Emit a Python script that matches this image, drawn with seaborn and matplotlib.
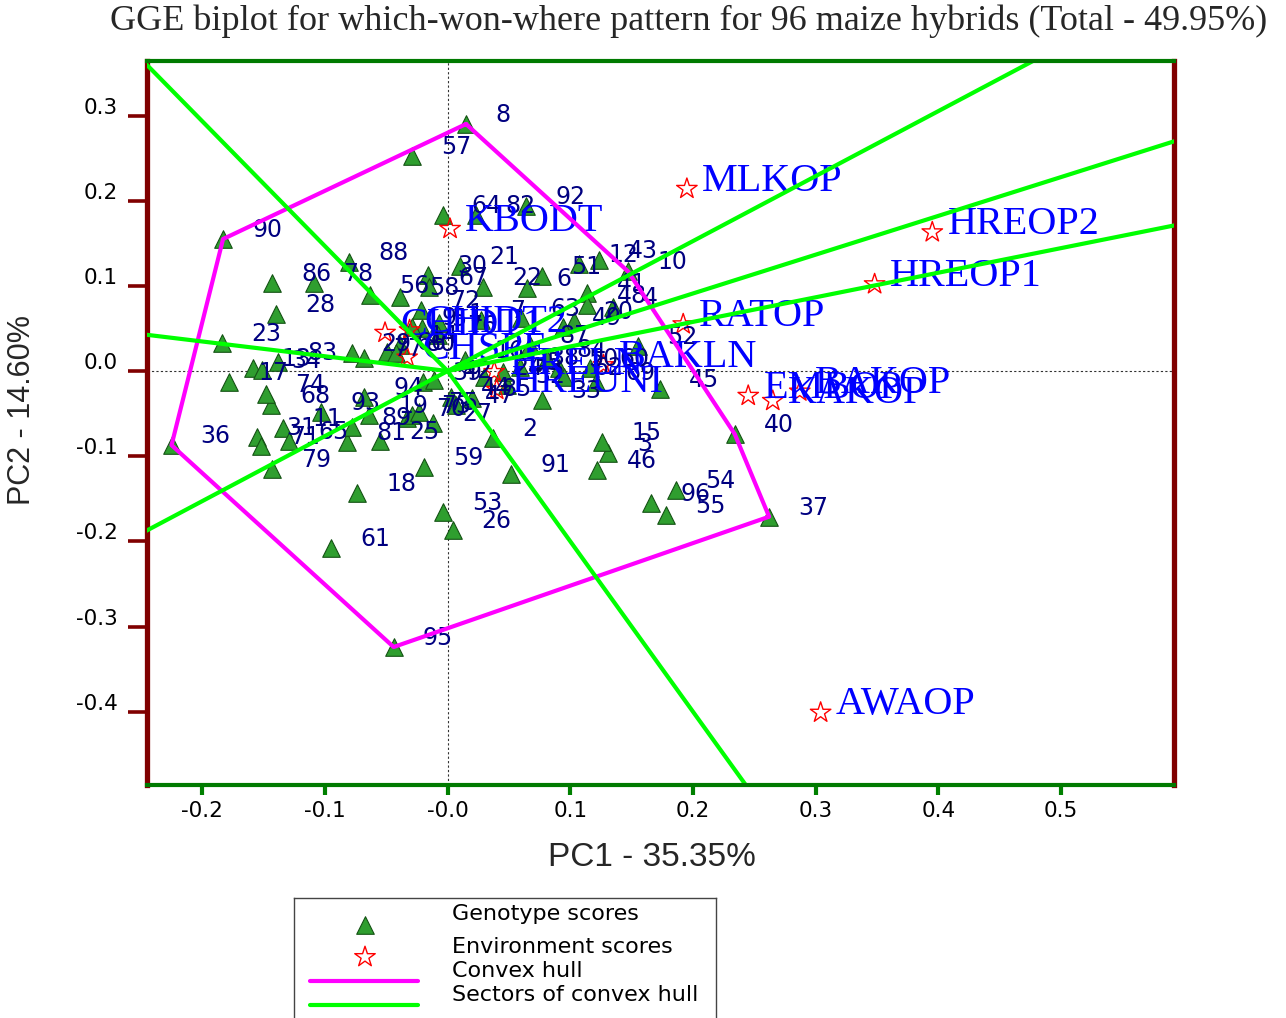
import matplotlib
matplotlib.use("Agg")
import numpy as np
import pandas as pd
import matplotlib.pyplot as plt
import seaborn as sns
from matplotlib.transforms import ScaledTranslation

# ---- genotype scores (hybrid number, PC1, PC2) ----
gen_ids = list(range(1, 97))
gen_pc1 = [
    -0.007, 0.037, 0.131, 0.135, -0.021, 0.065, 0.027, 0.015, -0.029, 0.147,
    -0.134, 0.107, -0.159, -0.039, 0.126, 0.014, -0.178, -0.074, -0.064, 0.103,
    0.010, 0.029, -0.184, 0.030, -0.055, 0.004, -0.012, -0.140, -0.078, -0.016,
    -0.155, 0.048, 0.077, -0.151, 0.045, -0.225, 0.262, 0.059, -0.020, 0.234,
    0.114, -0.011, 0.123, 0.003, 0.173, 0.122, 0.007, 0.114, 0.094, 0.091,
    0.077, 0.155, -0.004, 0.186, 0.178, -0.063, -0.029, -0.039, -0.019, 0.116,
    -0.095, 0.095, 0.060, -0.004, -0.129, -0.049, -0.015, -0.144, 0.121, -0.033,
    -0.152, -0.022, -0.029, -0.148, -0.023, -0.008, -0.068, -0.109, -0.143, -0.042,
    -0.082, 0.023, -0.138, 0.081, 0.020, -0.143, 0.067, -0.080, -0.078, -0.183,
    0.052, 0.064, -0.103, -0.068, -0.044, 0.166,
]
gen_pc2 = [
    0.056, -0.079, -0.096, 0.075, 0.050, 0.097, 0.060, 0.290, 0.052, 0.117,
    -0.067, 0.126, 0.004, 0.030, -0.083, 0.013, -0.013, -0.143, -0.052, 0.059,
    0.123, 0.099, 0.033, -0.007, -0.082, -0.187, -0.061, 0.067, 0.021, 0.113,
    -0.077, -0.016, -0.034, 0.001, -0.001, -0.087, -0.171, 0.005, -0.013, -0.074,
    0.092, -0.011, 0.130, -0.031, -0.021, -0.116, -0.040, 0.077, 0.052, 0.004,
    0.112, 0.029, -0.165, -0.140, -0.169, 0.089, 0.252, 0.087, -0.113, 0.004,
    -0.208, -0.007, 0.062, 0.183, -0.082, 0.022, 0.099, -0.040, -0.013, -0.055,
    -0.088, 0.072, -0.052, -0.027, -0.048, 0.042, 0.015, 0.103, -0.115, 0.021,
    -0.083, 0.183, 0.011, 0.014, -0.032, 0.103, 0.030, 0.128, -0.066, 0.155,
    -0.121, 0.194, -0.048, -0.031, -0.324, -0.155,
]

# ---- environment scores ----
env_names = ["MLKOP", "HREOP2", "HREOP1", "RATOP", "KBODT", "AWAOP",
             "EMBOP", "KAKOP", "BAKOP", "CHIDT1", "CHIDT2", "CHSPE",
             "HRELN", "HREUNI", "BAKLN"]
env_pc1 = [0.195, 0.395, 0.348, 0.192, 0.002, 0.304,
           0.245, 0.265, 0.287, -0.051, -0.031, -0.033,
           0.038, 0.040, 0.127]
env_pc2 = [0.214, 0.163, 0.102, 0.055, 0.167, -0.401,
           -0.029, -0.035, -0.024, 0.045, 0.048, 0.016,
           -0.001, -0.022, 0.007]

# genotypes at the corners of the convex hull, in drawing order
hull_ids = [8, 10, 40, 37, 95, 36, 90]

x_ticks = [-0.2, -0.1, 0.0, 0.1, 0.2, 0.3, 0.4, 0.5]
x_tick_labels = ["-0.2", "-0.1", "-0.0", "0.1", "0.2", "0.3", "0.4", "0.5"]
y_ticks = [0.3, 0.2, 0.1, 0.0, -0.1, -0.2, -0.3, -0.4]
y_tick_labels = ["0.3", "0.2", "0.1", "0.0", "-0.1", "-0.2", "-0.3", "-0.4"]

title_text = "GGE biplot for which-won-where pattern for 96 maize hybrids (Total - 49.95%)"
x_label = "PC1 - 35.35%"
y_label = "PC2 - 14.60%"
legend_labels = ["Genotype scores", "Environment scores", "Convex hull",
                 "Sectors of convex hull"]

GEN_FILL = "#2f9e2f"
GEN_EDGE = "#145214"
ENV_COLOR = "red"
HULL_COLOR = "#ff00ff"
SECTOR_COLOR = "#00ff00"

sns.set_theme(style="white")
plt.rcParams["font.family"] = ["DejaVu Sans"]

gen = pd.DataFrame({"id": gen_ids, "PC1": gen_pc1, "PC2": gen_pc2})
env = pd.DataFrame({"name": env_names, "PC1": env_pc1, "PC2": env_pc2})

W, H = 1286, 1018
fig = plt.figure(figsize=(W / 100, H / 100), dpi=100)
ax = fig.add_axes([147 / W, 1 - 785 / H, 1027 / W, 724 / H])
ax.set_xlim(-0.245, 0.592)
ax.set_ylim(-0.486, 0.364)

# reference axes through the origin
ax.axhline(0, color="#333333", lw=0.8, ls=(0, (2, 2)), zorder=1)
ax.axvline(0, color="#333333", lw=0.8, ls=(0, (2, 2)), zorder=1)

# genotype and environment markers
sns.scatterplot(data=gen, x="PC1", y="PC2", marker="^", s=160, color=GEN_FILL,
                edgecolor=GEN_EDGE, linewidth=0.8, ax=ax, zorder=3, legend=False)
sns.scatterplot(data=env, x="PC1", y="PC2", marker="*", s=240, color=ENV_COLOR,
                facecolors="none", edgecolor=ENV_COLOR, linewidth=1.0, ax=ax,
                zorder=4, legend=False)

for gid, gx, gy in zip(gen["id"], gen["PC1"], gen["PC2"]):
    ax.annotate(str(gid), (gx, gy), xytext=(21, 6.5), textcoords="offset points",
                ha="left", va="center", fontsize=17, color="#000080", zorder=5)

for name, ex, ey in zip(env["name"], env["PC1"], env["PC2"]):
    ax.annotate(name, (ex, ey), xytext=(11, 5.5), textcoords="offset points",
                ha="left", va="center", fontsize=29, color="#0000ff",
                family=["Liberation Serif", "DejaVu Serif"], zorder=5)

# convex hull around the genotypes
hull = gen.set_index("id").loc[hull_ids + [hull_ids[0]]]
ax.plot(hull["PC1"], hull["PC2"], color=HULL_COLOR, lw=3, zorder=6)

# sector rays: perpendicular from the origin to each hull side
pts = hull[["PC1", "PC2"]].to_numpy()
for a, b in zip(pts[:-1], pts[1:]):
    d = b - a
    n = np.array([-d[1], d[0]])
    if np.dot(n, a) < 0:
        n = -n
    n = n / np.linalg.norm(n)
    ax.plot([0, n[0] * 5], [0, n[1] * 5], color=SECTOR_COLOR, lw=3, zorder=7)

# frame
for side in ("left", "right"):
    ax.spines[side].set_color("#800000")
    ax.spines[side].set_linewidth(3.8)
for side in ("top", "bottom"):
    ax.spines[side].set_color("#007a00")
    ax.spines[side].set_linewidth(3.0)
    ax.spines[side].set_zorder(8)

ax.set_xticks(x_ticks)
ax.set_xticklabels(x_tick_labels)
ax.set_yticks(y_ticks)
ax.set_yticklabels(y_tick_labels)
ax.tick_params(axis="y", left=True, right=False, direction="out", length=14,
               width=2.6, color="#800000", pad=7, labelsize=15.5, labelcolor="black")
ax.tick_params(axis="x", bottom=True, top=False, direction="out", length=7.5,
               width=3, color="#008000", pad=4, labelsize=15.5, labelcolor="black")
lift = ScaledTranslation(0, 0.10, fig.dpi_scale_trans)
for lab in ax.get_yticklabels():
    lab.set_transform(lab.get_transform() + lift)

ax.set_xlabel(x_label, fontsize=24, family=["Liberation Sans", "DejaVu Sans"])
ax.xaxis.label.set_va("center")
ax.xaxis.set_label_coords((652 - 147) / 1027, (785 - 857) / 724)
ax.set_ylabel(y_label, fontsize=22, family=["Liberation Sans", "DejaVu Sans"])
ax.yaxis.label.set_va("center")
ax.yaxis.set_label_coords((22 - 147) / 1027, (785 - 410) / 724)

fig.text(689 / W, 1 - 21 / H, title_text, ha="center", va="center", fontsize=26,
         family=["Liberation Serif", "DejaVu Serif"])

# legend box below the plot
lax = fig.add_axes([294 / W, -0.02, 422 / W, (1 - 898 / H) + 0.02])
lax.set_xlim(294, 716)
lax.set_ylim(H + 0.02 * H, 898)
lax.set_xticks([])
lax.set_yticks([])
for sp in lax.spines.values():
    sp.set_color("#444444")
    sp.set_linewidth(1.0)
lax.scatter([365], [925], marker="^", s=160, color=GEN_FILL, edgecolor=GEN_EDGE,
            linewidth=0.8)
lax.scatter([365], [957], marker="*", s=240, facecolors="none", edgecolors=ENV_COLOR,
            linewidth=1.0)
lax.plot([310, 418], [981, 981], color=HULL_COLOR, lw=3)
lax.plot([310, 418], [1005, 1005], color=SECTOR_COLOR, lw=3)
for txt, ty in zip(legend_labels, [914, 947, 971, 995]):
    lax.text(452, ty, txt, ha="left", va="center", fontsize=16, color="black")

fig.savefig("out.png", dpi=100)
